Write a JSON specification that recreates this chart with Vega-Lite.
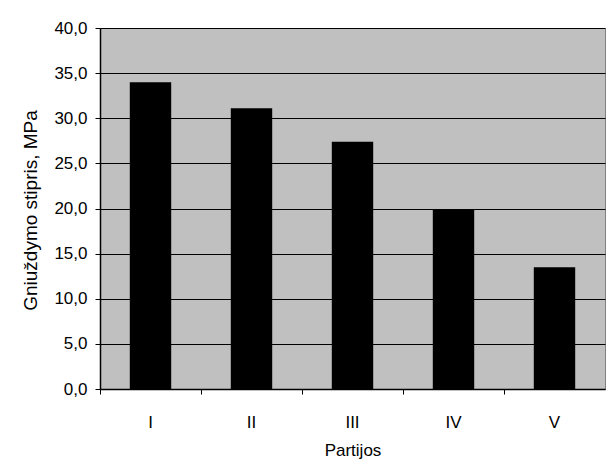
{
  "$schema": "https://vega.github.io/schema/vega-lite/v6.json",
  "width": 505,
  "height": 361,
  "autosize": {"type": "none"},
  "padding": {"left": 100, "top": 28, "right": 10, "bottom": 79},
  "background": "white",
  "data": {
    "values": [
      {"partija": "I", "stipris": 34.0},
      {"partija": "II", "stipris": 31.1},
      {"partija": "III", "stipris": 27.4},
      {"partija": "IV", "stipris": 19.9},
      {"partija": "V", "stipris": 13.5}
    ]
  },
  "mark": {"type": "bar", "color": "black", "width": {"band": 0.41}},
  "encoding": {
    "x": {
      "field": "partija",
      "type": "nominal",
      "sort": ["I", "II", "III", "IV", "V"],
      "scale": {"paddingInner": 0, "paddingOuter": 0},
      "axis": {
        "title": "Partijos",
        "labelAngle": 0,
        "bandPosition": 0,
        "grid": false,
        "ticks": true,
        "tickSize": 5,
        "tickColor": "black",
        "domainColor": "black",
        "domainWidth": 1.5,
        "labelPadding": 20,
        "labelFont": "Liberation Sans",
        "labelFontSize": 17,
        "labelColor": "black",
        "titleFont": "Liberation Sans",
        "titleFontSize": 17,
        "titleFontWeight": "normal",
        "titleColor": "black",
        "titleBaseline": "middle",
        "titleY": 61
      }
    },
    "y": {
      "field": "stipris",
      "type": "quantitative",
      "scale": {"domain": [0, 40], "nice": false},
      "axis": {
        "title": "Gniuždymo stipris, MPa",
        "values": [0, 5, 10, 15, 20, 25, 30, 35, 40],
        "format": ".1f",
        "labelExpr": "replace(datum.label, '.', ',')",
        "grid": true,
        "gridColor": "black",
        "gridWidth": 1.2,
        "gridOpacity": 1,
        "tickSize": 5,
        "tickColor": "black",
        "domainColor": "black",
        "domainWidth": 1.5,
        "labelPadding": 8,
        "labelFont": "Liberation Sans",
        "labelFontSize": 17,
        "labelColor": "black",
        "titleFont": "Liberation Sans",
        "titleFontSize": 19,
        "titleFontWeight": "normal",
        "titleColor": "black",
        "titleAngle": -90,
        "titleBaseline": "middle",
        "titleX": -70,
        "titleY": 182
      }
    }
  },
  "config": {
    "view": {"fill": "#C0C0C0", "stroke": "#808080", "strokeWidth": 1}
  }
}
